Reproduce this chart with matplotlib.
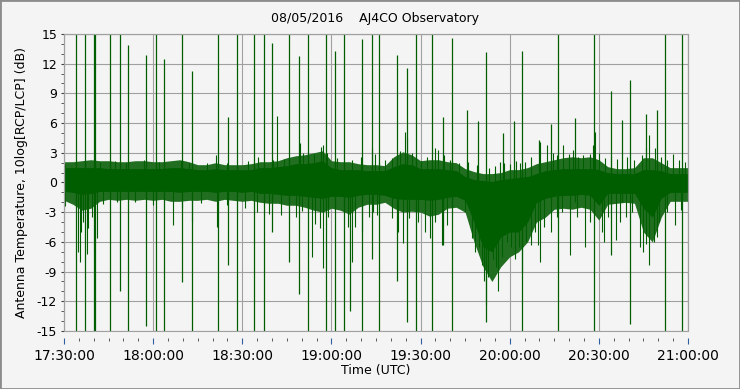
import numpy as np
import matplotlib
matplotlib.use("Agg")
import matplotlib.pyplot as plt
from matplotlib.patches import Rectangle

# minutes after 17:30 UTC, envelope read every 3 minutes
core_t = list(range(0, 211, 3))
core_upper = [1.5, 1.5, 1.5, 1.5, 1.5, 1.4, 1.4, 1.4, 1.4, 1.4, 1.4, 1.4, 1.5, 1.5, 1.4, 1.3,
              1.3, 1.4, 1.3, 1.3, 1.3, 1.3, 1.5, 1.5, 1.6, 1.7, 1.9, 1.9, 2.0, 2.2, 1.5, 1.3,
              1.3, 1.3, 1.2, 1.2, 1.2, 1.6, 1.9, 1.8, 1.4, 1.4, 1.4, 1.3, 1.2, 0.6, 0.3, 0.2,
              0.1, 0.3, 0.4, 0.5, 0.6, 0.9, 1.2, 1.3, 1.4, 1.4, 1.4, 1.4, 1.3, 1.0, 0.9, 0.9,
              0.9, 1.3, 1.3, 1.2, 0.9, 0.9, 0.9]
core_lower = [-0.9, -1.0, -1.2, -1.1, -0.9, -0.9, -0.9, -0.9, -0.9, -0.9, -0.9, -0.9, -0.9, -1.0,
              -0.9, -0.9, -0.9, -1.0, -0.9, -0.9, -1.0, -0.9, -1.1, -1.1, -1.2, -1.3, -1.3, -1.4,
              -1.5, -1.6, -1.4, -1.4, -1.5, -1.3, -1.2, -1.2, -1.3, -1.6, -1.7, -1.7, -1.7, -1.8,
              -1.7, -1.5, -1.4, -1.8, -4.0, -6.5, -7.0, -5.5, -5.0, -5.0, -4.0, -2.0, -1.6, -1.4,
              -1.3, -1.3, -1.2, -1.3, -2.3, -1.1, -1.1, -1.1, -1.1, -2.6, -3.5, -1.6, -1.0, -1.0, -1.0]
fringe_upper = [2.1, 2.1, 2.2, 2.3, 2.2, 2.2, 2.1, 2.1, 2.2, 2.2, 2.1, 2.1, 2.2, 2.3, 2.1, 1.8,
                1.8, 2.0, 1.8, 1.8, 1.8, 1.9, 2.1, 2.1, 2.2, 2.5, 2.7, 2.8, 3.0, 3.2, 2.2, 2.1,
                2.1, 1.9, 1.8, 1.8, 1.7, 2.6, 3.1, 2.8, 2.2, 2.3, 2.3, 2.1, 2.0, 1.4, 1.1, 0.9,
                0.9, 1.0, 1.3, 1.3, 1.5, 1.9, 2.1, 2.3, 2.5, 2.6, 2.5, 2.6, 2.3, 1.6, 1.4, 1.4,
                1.5, 2.5, 2.5, 2.0, 1.5, 1.5, 1.5]
fringe_lower = [-1.8, -2.2, -2.8, -2.6, -1.9, -1.7, -1.8, -1.7, -1.8, -1.7, -1.8, -1.7, -1.9, -1.9,
                -1.8, -1.8, -1.7, -1.9, -1.7, -1.8, -1.9, -1.8, -2.0, -2.1, -2.1, -2.3, -2.3, -2.5,
                -2.8, -3.0, -2.6, -2.8, -3.2, -2.5, -2.2, -2.2, -2.0, -2.6, -3.0, -2.9, -3.0, -3.4,
                -3.2, -2.6, -2.5, -3.0, -6.0, -8.5, -10.0, -8.5, -7.5, -7.0, -6.0, -4.0, -3.5, -2.7,
                -2.6, -2.7, -2.5, -2.7, -3.8, -2.2, -2.1, -2.0, -2.1, -5.0, -6.0, -3.5, -1.9, -1.9, -1.9]

dip_t = [0.4, 4.8, 5.5, 5.7, 6.5, 7.6, 8.2, 9.3, 11.0, 13, 18, 24, 30, 36.6, 39.6, 43, 46, 51.4,
         54.7, 60.9, 65, 69, 73, 78, 80, 83.6, 84.5, 86, 87.3, 89, 95.5, 96.8, 98, 100.2, 102.5,
         104, 105.3, 110.5, 112.5, 114.2, 116, 119, 121.5, 123.2, 125, 127.1, 128.8, 135, 137.2,
         138.4, 139.5, 140.6, 141.5, 141.9, 142.8, 144.5, 145.5, 146.2, 147.3, 149, 150.5, 151.8,
         153, 154.1, 155.5, 157, 158.5, 159.6, 160.2, 161.5, 163.8, 166, 167.5, 170.2, 172.5,
         175.3, 177, 181, 181.8, 183, 185.7, 187.1, 189.3, 191, 194, 195, 196, 197, 198.5, 199.5,
         200.4, 203, 205.6, 207.8]
dip_v = [-2.4, -7.0, -8.0, -5.0, -4.0, -7.2, -4.6, -3.5, -5.6, -2.2, -2.0, -2.0, -2.3, -4.3, -2.6,
         -4.0, -2.1, -4.5, -2.3, -2.6, -3.0, -3.2, -3.3, -3.5, -2.9, -7.5, -4.2, -4.6, -8.6, -3.5,
         -4.5, -8.0, -4.5, -5.0, -3.5, -3.0, -3.3, -3.6, -5.0, -6.1, -3.6, -4.0, -5.0, -5.6, -4.0,
         -6.3, -4.3, -3.0, -5.6, -7.0, -6.5, -8.3, -10.0, -12.4, -9.5, -7.7, -8.5, -11.0, -7.5,
         -6.0, -6.5, -7.7, -6.5, -9.0, -6.0, -6.3, -5.0, -6.3, -8.0, -4.5, -5.0, -3.5, -3.0, -7.3,
         -3.5, -6.5, -4.0, -5.0, -6.0, -3.5, -5.8, -4.0, -3.5, -3.0, -6.5, -7.0, -6.2, -8.3, -6.0,
         -5.5, -4.0, -3.0, -4.3, -2.8]

peak_t = [0.5, 10, 12, 17, 21, 27, 32, 39.5, 42, 48, 51, 55, 62, 65.4, 70.5, 71.7, 74, 79.4, 80.5,
          82, 84, 86.5, 87.3, 88.5, 92, 97, 100, 103.5, 104.5, 106, 108, 110.5, 113, 114.8, 115.4,
          117, 120, 122, 124.9, 126, 128, 130, 133, 136, 139, 143, 145, 146.8, 148, 150, 152,
          153.5, 155, 157, 160.2, 162.4, 164.5, 166, 168, 170, 171.3, 173, 174.8, 177, 178, 178.7,
          180, 182, 184, 186, 189.5, 192, 194.5, 196, 197, 198.8, 201, 203, 205, 207, 209]
peak_v = [1.9, 2.4, 2.1, 2.2, 2.0, 2.3, 2.1, 2.2, 2.0, 2.0, 2.8, 2.0, 2.2, 2.6, 2.3, 6.7, 2.4, 4.0,
          3.0, 2.7, 2.9, 3.6, 3.8, 3.0, 2.5, 2.3, 2.6, 3.5, 2.9, 2.1, 2.3, 2.5, 3.2, 5.1, 4.6, 3.0,
          2.2, 2.6, 3.5, 3.3, 2.8, 2.3, 2.0, 2.1, 1.8, 1.5, 1.7, 2.1, 2.0, 1.9, 2.2, 2.0, 2.1, 2.6,
          4.1, 3.8, 3.0, 2.8, 3.8, 2.9, 3.3, 2.6, 2.8, 2.9, 3.8, 5.1, 3.0, 2.5, 2.7, 2.4, 2.6, 2.3,
          2.8, 3.5, 4.8, 3.5, 2.6, 2.3, 2.9, 2.3, 2.1]

spike_t = [3.9, 7.2, 10.0, 10.4, 15.6, 19.0, 21.7, 27.7, 31.1, 33.8, 39.8, 43.2, 51.9, 55.3, 58.1,
           64.1, 67.4, 70.1, 75.7, 79.2, 82.0, 88.1, 91.3, 94.1, 96.3, 100.2, 103.6, 106.1, 112.0,
           115.6, 118.4, 123.9, 127.7, 130.5, 135.7, 139.4, 142.1, 147.9, 151.6, 154.3, 159.9,
           163.8, 166.4, 172.0, 178.4, 184.2, 187.9, 190.6, 196.0, 199.7, 202.4, 208.1]
spike_top = [15, 15, 15, 15, 15, 15, 13.9, 12.9, 15, 12.5, 15, 11.3, 15, 6.6, 15, 15, 15, 14.1, 15,
             12.8, 15, 15, 13.3, 15, 0, 14.5, 15, 15, 12.9, 11.6, 15, 15, 6.6, 14.6, 7.3, 6.2, 13.2,
             5.0, 6.2, 13.3, 4.3, 5.9, 15, 6.5, 15, 9.2, 6.3, 10.4, 6.9, 7.3, 15, 15]
spike_bot = [-15, -15, -15, -15, -15, -11.0, -15, -14.5, -15, -15, -10.1, -15, -15, -8.3, -15, -15,
             -15, -5.0, -8.0, -11.3, -15, -15, -15, -15, -13.0, -15, -7.7, -15, -10.0, -14.1, -15,
             -15, -6.3, -15, -2, -3, -14.1, -2, -3, -15, -2, -2, -15, -2, -15, -7.3, -2, -14.3, -3,
             -3, -15, -15]

x_ticks = [0, 30, 60, 90, 120, 150, 180, 210]
x_labels = ["17:30:00", "18:00:00", "18:30:00", "19:00:00", "19:30:00", "20:00:00", "20:30:00", "21:00:00"]
y_ticks = [15, 12, 9, 6, 3, 0, -3, -6, -9, -12, -15]

plt.rcParams["font.family"] = "DejaVu Sans"
plt.rcParams["axes.unicode_minus"] = False

bg = "#F4F4F4"
green = "#005E00"
green_loose = "#216E21"   # sparser outer part of the noise band

fig = plt.figure(figsize=(7.4, 3.89), dpi=100, facecolor=bg)
ax = fig.add_axes([0.0865, 0.1491, 0.8432, 0.7635], facecolor=bg)

# noise: loose fringe, dense core, then single excursions
ax.fill_between(core_t, fringe_lower, fringe_upper, color=green_loose, lw=0)
ax.fill_between(core_t, core_lower, core_upper, color=green, lw=0)
ax.vlines(dip_t, 0, dip_v, color=green, lw=0.8)
ax.vlines(peak_t, 0, peak_v, color=green, lw=0.8)
# interference spikes
ax.vlines(spike_t, spike_bot, spike_top, color=green, lw=0.9)

ax.set_xlim(0, 210)
ax.set_ylim(-15, 15)
ax.set_xticks(x_ticks)
ax.set_xticklabels(x_labels, fontsize=9)
ax.set_xticks(np.arange(0, 211, 5), minor=True)
ax.set_yticks(y_ticks)
ax.set_yticklabels([str(v) for v in y_ticks], fontsize=9)
ax.set_yticks(np.arange(-15, 16, 1), minor=True)

ax.grid(True, which="major", color="#A0A0A0", lw=0.8)
ax.set_axisbelow(True)

for s in ["top", "right", "left"]:
    ax.spines[s].set_color("#A0A0A0")
ax.spines["bottom"].set_position(("outward", 5))
ax.spines["bottom"].set_color("none")
ax.add_patch(Rectangle((0, 0), 1, 1, transform=ax.transAxes, fill=False,
                       edgecolor="#A0A0A0", lw=0.8, zorder=5, clip_on=False))

ax.tick_params(axis="x", which="major", length=4, color="#3060A0", pad=4)
ax.tick_params(axis="x", which="minor", length=2, color="#404040")
ax.tick_params(axis="y", which="major", length=2, color="#404040", pad=3)
ax.tick_params(axis="y", which="minor", length=2, color="#404040")

ax.set_xlabel("Time (UTC)", fontsize=9, labelpad=1)
ax.set_ylabel("Antenna Temperature, 10log[RCP/LCP] (dB)", fontsize=9, labelpad=6)
fig.text(0.507, 0.953, "08/05/2016    AJ4CO Observatory", ha="center", va="center", fontsize=9)

fig.patches.append(Rectangle((0, 0), 1, 1, transform=fig.transFigure, fill=False,
                             edgecolor="#8C8C8C", lw=2))

fig.savefig("out.png", dpi=100, facecolor=bg)
